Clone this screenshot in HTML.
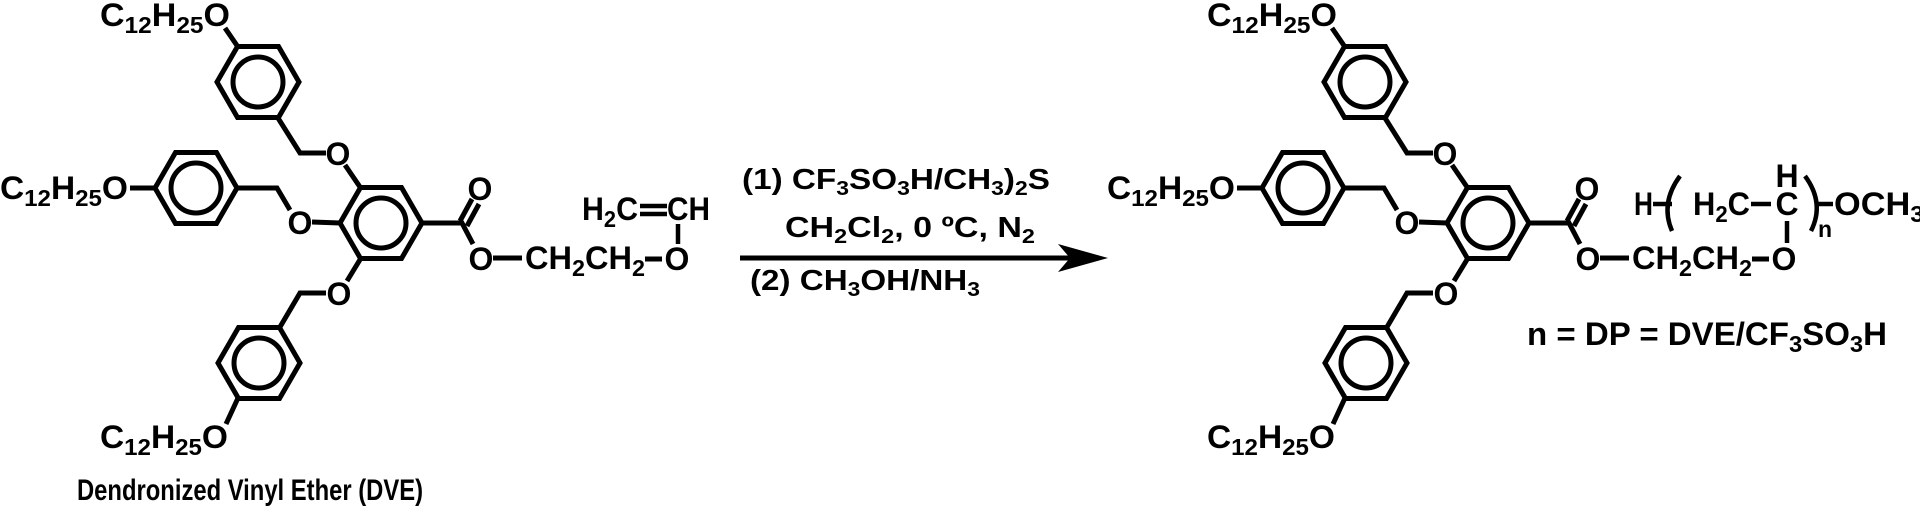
<!DOCTYPE html>
<html><head><meta charset="utf-8"><style>
html,body{margin:0;padding:0;background:#fff;}
svg{display:block;}
text{font-family:"Liberation Sans",Arial,sans-serif;font-weight:bold;fill:#000;}
</style></head><body>
<svg width="1920" height="509" viewBox="0 0 1920 509" xmlns="http://www.w3.org/2000/svg">
<defs>
<g id="ring">
<polygon points="-41,0 -20.5,-35.5 20.5,-35.5 41,0 20.5,35.5 -20.5,35.5" fill="none" stroke="#000" stroke-width="5" stroke-linejoin="miter"/>
<circle cx="0" cy="0" r="25" fill="none" stroke="#000" stroke-width="5"/>
</g>
<g id="dend">
<use href="#ring" x="258" y="82"/>
<use href="#ring" x="196" y="188"/>
<use href="#ring" x="381" y="223"/>
<use href="#ring" x="259" y="363"/>
<g fill="none" stroke="#000" stroke-width="5" stroke-linejoin="miter">
<polyline points="225,28 238,47"/>
<polyline points="278,118 300,153 326,153"/>
<polyline points="345,165 360,187"/>
<polyline points="130,188 155,188"/>
<polyline points="237,188 277,188 290,210"/>
<polyline points="312,222 340,223"/>
<polyline points="347,281 361,258"/>
<polyline points="326,293 300,293 280,327"/>
<polyline points="238,398 226,424"/>
<polyline points="422,223 462,223 473,244"/>
<line x1="460" y1="221" x2="472" y2="199"/>
<line x1="467" y1="226" x2="479" y2="204"/>
<line x1="493" y1="258" x2="522" y2="258"/>
<line x1="645" y1="259" x2="662" y2="259"/>
</g>
<g font-size="32">
<text x="100" y="26" textLength="130" lengthAdjust="spacingAndGlyphs">C<tspan font-size="23" dy="7">12</tspan><tspan dy="-7">H</tspan><tspan font-size="23" dy="7">25</tspan><tspan dy="-7">O</tspan></text>
<text x="0" y="199" textLength="128" lengthAdjust="spacingAndGlyphs">C<tspan font-size="23" dy="7">12</tspan><tspan dy="-7">H</tspan><tspan font-size="23" dy="7">25</tspan><tspan dy="-7">O</tspan></text>
<text x="100" y="448" textLength="128" lengthAdjust="spacingAndGlyphs">C<tspan font-size="23" dy="7">12</tspan><tspan dy="-7">H</tspan><tspan font-size="23" dy="7">25</tspan><tspan dy="-7">O</tspan></text>
<text x="338" y="165" text-anchor="middle">O</text>
<text x="300" y="234" text-anchor="middle">O</text>
<text x="339" y="305" text-anchor="middle">O</text>
<text x="480" y="200" text-anchor="middle">O</text>
<text x="481" y="270" text-anchor="middle">O</text>
<text x="525" y="269" textLength="120" lengthAdjust="spacingAndGlyphs">CH<tspan font-size="23" dy="7">2</tspan><tspan dy="-7">CH</tspan><tspan font-size="23" dy="7">2</tspan></text>
<text x="677" y="270" text-anchor="middle">O</text>
</g>
</g>
</defs>

<use href="#dend"/>
<g font-size="32">
<text x="582" y="220" textLength="56" lengthAdjust="spacingAndGlyphs">H<tspan font-size="23" dy="7">2</tspan><tspan dy="-7">C</tspan></text>
<text x="667" y="220" textLength="43" lengthAdjust="spacingAndGlyphs">CH</text>
</g>
<g stroke="#000" stroke-width="4.5">
<line x1="640" y1="206" x2="667" y2="206"/>
<line x1="640" y1="214" x2="667" y2="214"/>
<line x1="678" y1="224" x2="678" y2="244"/>
</g>
<text x="77" y="500" font-size="30" textLength="346" lengthAdjust="spacingAndGlyphs">Dendronized Vinyl Ether (DVE)</text>

<g font-size="29">
<text x="742" y="189" textLength="308" lengthAdjust="spacingAndGlyphs">(1) CF<tspan font-size="20" dy="6">3</tspan><tspan dy="-6">SO</tspan><tspan font-size="20" dy="6">3</tspan><tspan dy="-6">H/CH</tspan><tspan font-size="20" dy="6">3</tspan><tspan dy="-6">)</tspan><tspan font-size="20" dy="6">2</tspan><tspan dy="-6">S</tspan></text>
<text x="785" y="237" textLength="250" lengthAdjust="spacingAndGlyphs">CH<tspan font-size="20" dy="6">2</tspan><tspan dy="-6">Cl</tspan><tspan font-size="20" dy="6">2</tspan><tspan dy="-6">, 0 ºC, N</tspan><tspan font-size="20" dy="6">2</tspan></text>
<text x="750" y="290" textLength="230" lengthAdjust="spacingAndGlyphs">(2) CH<tspan font-size="20" dy="6">3</tspan><tspan dy="-6">OH/NH</tspan><tspan font-size="20" dy="6">3</tspan></text>
</g>
<line x1="740" y1="258" x2="1070" y2="258" stroke="#000" stroke-width="5"/>
<polygon points="1108,258 1058,244 1070,258 1058,272" fill="#000"/>

<use href="#dend" x="1107"/>
<g font-size="32">
<text x="1634" y="215" textLength="19" lengthAdjust="spacingAndGlyphs">H</text>
<text x="1693" y="215" textLength="57" lengthAdjust="spacingAndGlyphs">H<tspan font-size="23" dy="7">2</tspan><tspan dy="-7">C</tspan></text>
<text x="1787" y="215" text-anchor="middle">C</text>
<text x="1787" y="187" text-anchor="middle">H</text>
<text x="1818" y="237" font-size="23">n</text>
<text x="1834" y="215" textLength="90" lengthAdjust="spacingAndGlyphs">OCH<tspan font-size="23" dy="7">3</tspan></text>
<text x="1527" y="345" textLength="360" lengthAdjust="spacingAndGlyphs">n = DP = DVE/CF<tspan font-size="23" dy="7">3</tspan><tspan dy="-7">SO</tspan><tspan font-size="23" dy="7">3</tspan><tspan dy="-7">H</tspan></text>
</g>
<g fill="none" stroke="#000" stroke-width="4.5">
<line x1="1653" y1="204" x2="1672" y2="204"/>
<line x1="1751" y1="204" x2="1771" y2="204"/>
<line x1="1815" y1="204" x2="1833" y2="204"/>
<line x1="1787" y1="221" x2="1787" y2="243"/>
<path d="M1680,176 Q1660,203 1672,231"/>
<path d="M1805,176 Q1825,203 1811,231"/>
</g>
</svg>
</body></html>
